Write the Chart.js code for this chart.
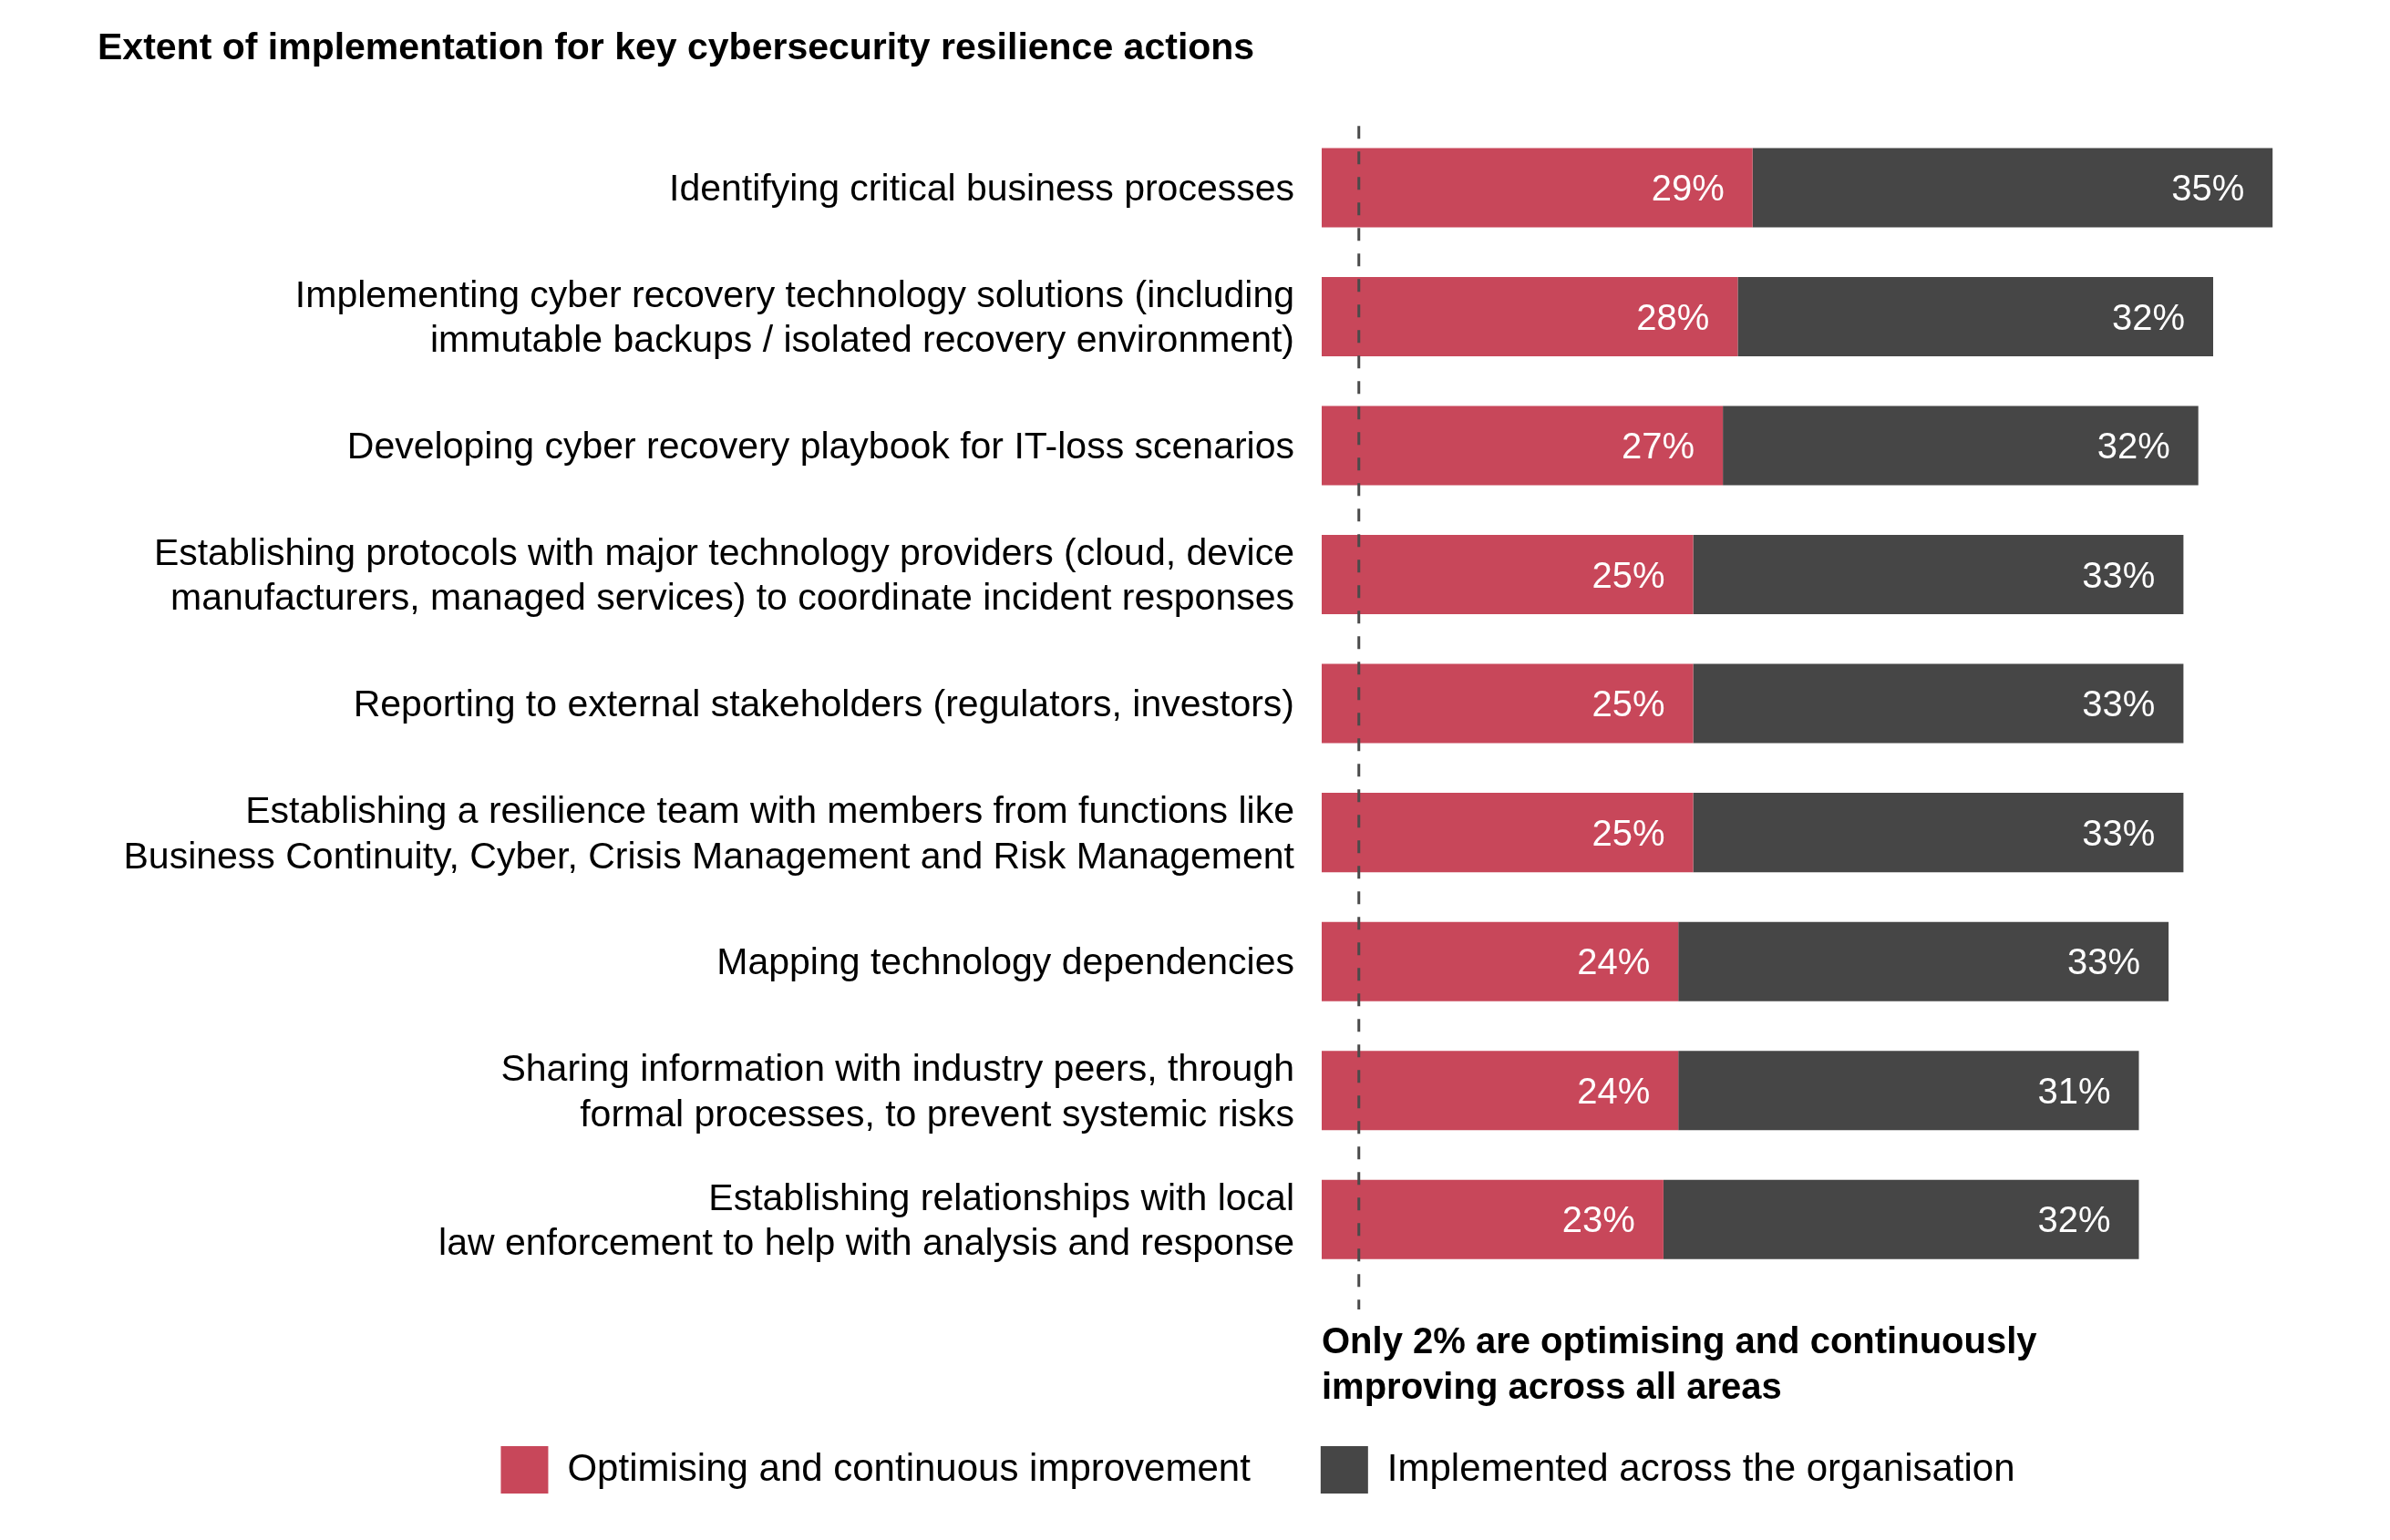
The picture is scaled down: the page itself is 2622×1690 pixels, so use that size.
<!DOCTYPE html>
<html>
<head>
<meta charset="utf-8">
<script src="https://cdn.jsdelivr.net/npm/chart.js@4/dist/chart.umd.min.js"></script>
<style>
  html, body { margin: 0; padding: 0; background: #ffffff; }
  #wrap { width: 2622px; height: 1690px; position: relative; }
</style>
</head>
<body>
<div id="wrap"><canvas id="c"></canvas></div>
<script>
const titleText = 'Extent of implementation for key cybersecurity resilience actions';
const categories = [
  ['Identifying critical business processes'],
  ['Implementing cyber recovery technology solutions (including', 'immutable backups / isolated recovery environment)'],
  ['Developing cyber recovery playbook for IT-loss scenarios'],
  ['Establishing protocols with major technology providers (cloud, device', 'manufacturers, managed services) to coordinate incident responses'],
  ['Reporting to external stakeholders (regulators, investors)'],
  ['Establishing a resilience team with members from functions like', 'Business Continuity, Cyber, Crisis Management and Risk Management'],
  ['Mapping technology dependencies'],
  ['Sharing information with industry peers, through', 'formal processes, to prevent systemic risks'],
  ['Establishing relationships with local', 'law enforcement to help with analysis and response']
];
const seriesNames = ['Optimising and continuous improvement', 'Implemented across the organisation'];
const optimising = [29, 28, 27, 25, 25, 25, 24, 24, 23];
const implemented = [35, 32, 32, 33, 33, 33, 33, 31, 32];
const markerValue = 2.5;
const noteLines = ['Only 2% are optimising and continuously', 'improving across all areas'];

const RED = '#C8475A';
const DARK = '#464646';
const FONT = "'Liberation Sans', Arial, Helvetica, sans-serif";
Chart.defaults.font.family = FONT;
Chart.defaults.color = '#000000';

const barLabels = {
  id: 'barLabels',
  afterDatasetsDraw(chart) {
    const ctx = chart.ctx;
    ctx.save();
    ctx.fillStyle = '#ffffff';
    ctx.font = "40px " + FONT;
    ctx.textAlign = 'right';
    ctx.textBaseline = 'middle';
    chart.data.datasets.forEach((ds, di) => {
      const meta = chart.getDatasetMeta(di);
      meta.data.forEach((el, i) => {
        ctx.fillText(ds.data[i] + '%', el.x - 31, el.y + 3);
      });
    });
    ctx.restore();
  }
};

const marker = {
  id: 'marker',
  afterDatasetsDraw(chart) {
    const ctx = chart.ctx;
    const x = chart.scales.x.getPixelForValue(markerValue);
    const a = chart.chartArea;
    ctx.save();
    ctx.strokeStyle = '#4a4a4a';
    ctx.lineWidth = 3;
    ctx.setLineDash([14, 14]);
    ctx.beginPath();
    ctx.moveTo(x, a.top + 3);
    ctx.lineTo(x, a.bottom + 28);
    ctx.stroke();
    ctx.restore();
  }
};

const note = {
  id: 'note',
  afterDraw(chart) {
    const ctx = chart.ctx;
    const a = chart.chartArea;
    ctx.save();
    ctx.fillStyle = '#000000';
    ctx.font = "bold 40px " + FONT;
    ctx.textAlign = 'left';
    ctx.textBaseline = 'middle';
    noteLines.forEach((t, i) => ctx.fillText(t, a.left, a.bottom + 65 + i * 50));
    ctx.restore();
  },
  afterLayout(chart) {
    if (chart.legend) { chart.legend.left += 31; chart.legend.right += 31; }
  }
};

new Chart(document.getElementById('c'), {
  type: 'bar',
  data: {
    labels: categories,
    datasets: [
      { label: seriesNames[0], data: optimising, backgroundColor: RED, borderWidth: 0 },
      { label: seriesNames[1], data: implemented, backgroundColor: DARK, borderWidth: 0 }
    ]
  },
  options: {
    indexAxis: 'y',
    responsive: true,
    maintainAspectRatio: false,
    devicePixelRatio: 1,
    animation: false,
    datasets: { bar: { categoryPercentage: 1, barPercentage: 0.615 } },
    layout: { padding: { left: 107, right: 31, top: 0, bottom: 41 } },
    scales: {
      x: {
        stacked: true, min: 0, max: 70,
        ticks: { display: false },
        grid: { display: false, drawTicks: false },
        border: { display: false },
        afterFit(s) { s.height = 101; }
      },
      y: {
        stacked: true,
        ticks: { color: '#000000', padding: 30, labelOffset: 3, font: { size: 41, lineHeight: 1.2 } },
        grid: { display: false, drawTicks: false },
        border: { display: false },
        afterFit(s) { s.width = 1343; }
      }
    },
    plugins: {
      title: {
        display: true, text: titleText, align: 'start', color: '#000000',
        font: { size: 41, weight: 'bold', lineHeight: 1.2 },
        padding: { top: 29, bottom: 57 }
      },
      legend: {
        position: 'bottom',
        labels: { boxWidth: 52, boxHeight: 52, padding: 77, color: '#000000', font: { size: 42 } }
      },
      tooltip: { enabled: false }
    }
  },
  plugins: [barLabels, marker, note]
});
</script>
</body>
</html>
